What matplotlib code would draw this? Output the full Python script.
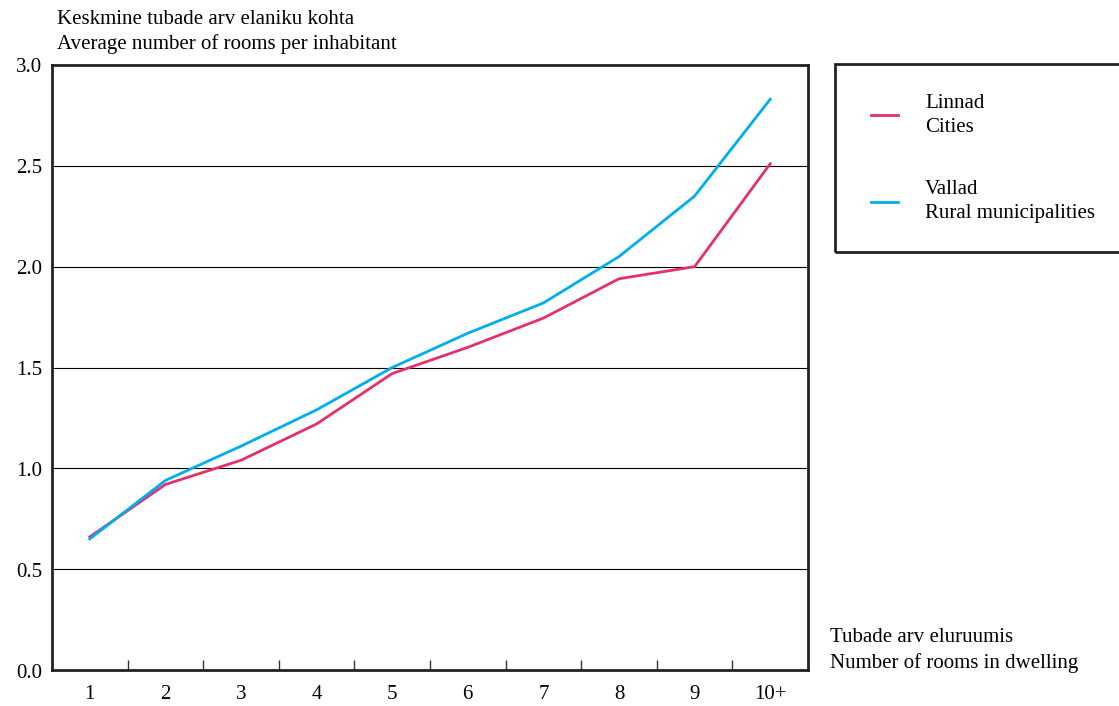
import matplotlib
matplotlib.use("Agg")
import matplotlib.pyplot as plt
import matplotlib.transforms as mtransforms
from matplotlib.patches import Rectangle
import numpy as np

categories = ["1", "2", "3", "4", "5", "6", "7", "8", "9", "10+"]
cities = [0.66, 0.92, 1.04, 1.22, 1.47, 1.60, 1.745, 1.94, 2.00, 2.51]
rural = [0.65, 0.94, 1.11, 1.29, 1.50, 1.67, 1.82, 2.05, 2.35, 2.83]
yticks = [0.0, 0.5, 1.0, 1.5, 2.0, 2.5, 3.0]

plt.rcParams['font.family'] = ['Liberation Serif', 'DejaVu Serif']
FS = 15

W, H = 1119, 706
fig = plt.figure(figsize=(W/100, H/100), dpi=100)
ax = fig.add_axes([52/W, 1-670/H, (808-52)/W, (670-65)/H])

x = np.arange(len(categories))
pink = '#E5306E'
blue = '#00AEEF'
ax.plot(x, cities, color=pink, lw=2.0, label="Linnad\nCities", zorder=3)
ax.plot(x, rural, color=blue, lw=2.0, label="Vallad\nRural municipalities", zorder=3)

ax.set_xlim(-0.5, len(categories)-0.5)
ax.set_ylim(0, 3.0)
ax.set_yticks(yticks)
ax.set_yticklabels([f"{v:.1f}" for v in yticks], fontsize=FS, va='center')
ax.tick_params(axis='y', length=0, pad=7)
shift = mtransforms.ScaledTranslation(0, -3/100, fig.dpi_scale_trans)
for lbl in ax.get_yticklabels():
    lbl.set_transform(lbl.get_transform() + shift)
for v in yticks[1:-1]:
    ax.axhline(v, color='black', lw=0.8, zorder=1)

ax.set_xticks(x)
ax.set_xticklabels(categories, fontsize=FS)
ax.tick_params(axis='x', length=0, pad=11)
ax.set_xticks(x[:-1] + 0.5, minor=True)
ax.tick_params(axis='x', which='minor', direction='in', length=7, width=1, color='#333333')

for s in ax.spines.values():
    s.set_linewidth(2.0)
    s.set_color('#222222')

fig.text(57/W, 1-20/H, "Keskmine tubade arv elaniku kohta", fontsize=FS, va='center', ha='left')
fig.text(57/W, 1-44/H, "Average number of rooms per inhabitant", fontsize=FS, va='center', ha='left')
fig.text(830/W, 1-638/H, "Tubade arv eluruumis", fontsize=FS, va='center', ha='left')
fig.text(830/W, 1-663/H, "Number of rooms in dwelling", fontsize=FS, va='center', ha='left')

# legend box
rect = Rectangle((835/W, 1-252/H), (1125-835)/W, (252-64)/H, transform=fig.transFigure,
                 fill=False, edgecolor='#222222', lw=2.0, clip_on=False)
fig.patches.append(rect)
leg = fig.legend(loc='upper left', bbox_to_anchor=(852/W, 1-75/H), frameon=False,
                 fontsize=FS, handlelength=1.3, handletextpad=1.3, labelspacing=2.1)
for t in leg.get_texts():
    t.set_linespacing(1.35)

fig.savefig("out.png", dpi=100)
